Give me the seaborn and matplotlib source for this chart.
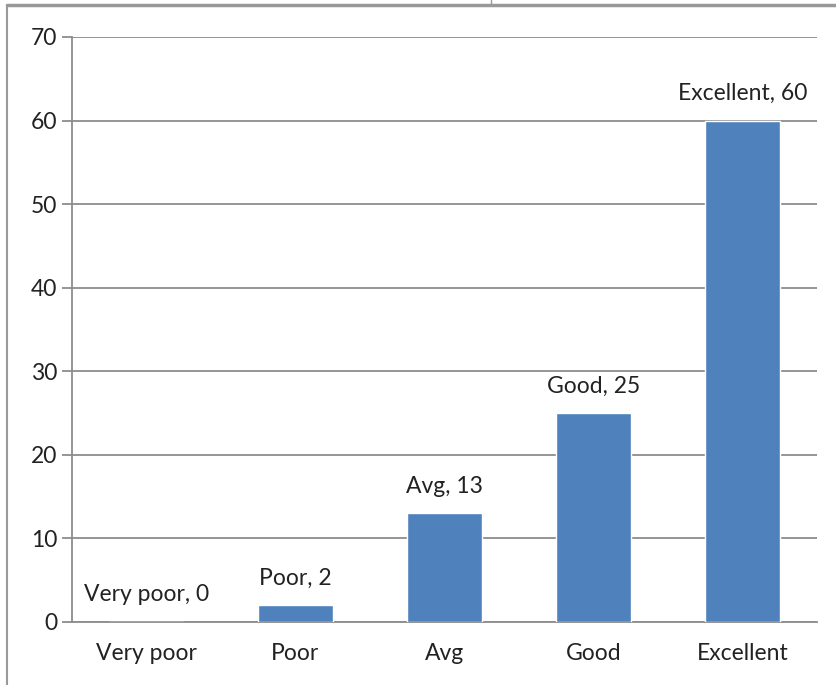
import matplotlib
matplotlib.use("Agg")
import matplotlib.pyplot as plt
import seaborn as sns
import pandas as pd
from matplotlib.lines import Line2D

# --------------------------------------------------------------
# Data
# --------------------------------------------------------------
categories = ["Very poor", "Poor", "Avg", "Good", "Excellent"]
counts = [0, 2, 13, 25, 60]

df = pd.DataFrame({"rating": categories, "count": counts})

sns.set_theme(style="white")
plt.rcParams["font.family"] = ["Lato", "DejaVu Sans"]

fig = plt.figure(figsize=(8.36, 6.85), dpi=100)
ax = fig.add_axes([0.086, 0.092, 0.891, 0.854])

sns.barplot(data=df, x="rating", y="count", color="#4F81BD", width=0.5,
            saturation=1, ax=ax, zorder=3)

ax.set_ylim(0, 70)
ax.set_xlim(-0.5, 4.5)
ax.set_yticks(range(0, 71, 10))
ax.yaxis.grid(True, color="#8c8c8c", linewidth=1.3, zorder=0)
ax.set_xlabel("")
ax.set_ylabel("")

for s in ["top", "right"]:
    ax.spines[s].set_visible(False)
for s in ["left", "bottom"]:
    ax.spines[s].set_color("#8c8c8c")
    ax.spines[s].set_linewidth(1.3)

# tick marks between the categories
ax.set_xticks([x - 0.5 for x in range(6)], minor=True)
ax.tick_params(axis="x", which="minor", length=7, color="#8c8c8c", width=1.3, direction="out")
ax.tick_params(axis="x", which="major", length=0, labelsize=16.5, pad=15, colors="#222222")
ax.tick_params(axis="y", length=7, color="#8c8c8c", width=1.3, direction="out", labelsize=16.5,
               colors="#222222", left=True)

for i, (c, v) in enumerate(zip(categories, counts)):
    ax.annotate(f"{c}, {v}", (i, v), xytext=(0, 12), textcoords="offset points",
                ha="center", va="bottom", fontsize=16.5, color="#222222")

# outer frame like the original screenshot
fig.add_artist(Line2D([0.008, 1.0], [0.993, 0.993], transform=fig.transFigure,
                      color="#999999", linewidth=2.5))
fig.add_artist(Line2D([0.008, 0.008], [0.0, 0.993], transform=fig.transFigure,
                      color="#999999", linewidth=1.5))
fig.add_artist(Line2D([0.587, 0.587], [0.993, 1.0], transform=fig.transFigure,
                      color="#999999", linewidth=1.0))

plt.savefig("out.png", format="png", dpi=100)
